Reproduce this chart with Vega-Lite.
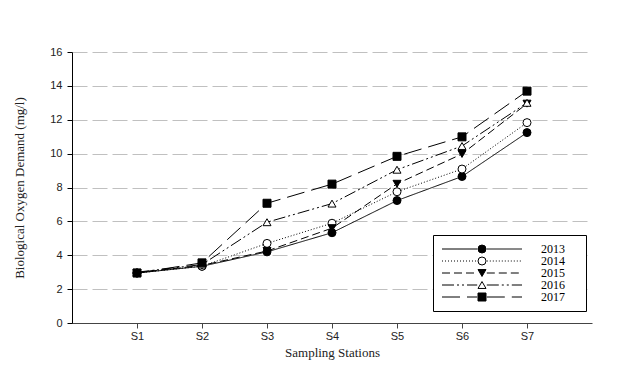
{
  "$schema": "https://vega.github.io/schema/vega-lite/v6.json",
  "width": 520,
  "height": 271,
  "autosize": "none",
  "padding": {"left": 72, "top": 52, "right": 45, "bottom": 46},
  "background": "white",
  "config": {"view": {"stroke": null}},
  "data": {
    "values": [
      {"station": "S1", "year": "2013", "bod": 2.95},
      {"station": "S2", "year": "2013", "bod": 3.35},
      {"station": "S3", "year": "2013", "bod": 4.2},
      {"station": "S4", "year": "2013", "bod": 5.33},
      {"station": "S5", "year": "2013", "bod": 7.23},
      {"station": "S6", "year": "2013", "bod": 8.65},
      {"station": "S7", "year": "2013", "bod": 11.24},
      {"station": "S1", "year": "2014", "bod": 2.95},
      {"station": "S2", "year": "2014", "bod": 3.35},
      {"station": "S3", "year": "2014", "bod": 4.7},
      {"station": "S4", "year": "2014", "bod": 5.89},
      {"station": "S5", "year": "2014", "bod": 7.75},
      {"station": "S6", "year": "2014", "bod": 9.09},
      {"station": "S7", "year": "2014", "bod": 11.83},
      {"station": "S1", "year": "2015", "bod": 2.97},
      {"station": "S2", "year": "2015", "bod": 3.4},
      {"station": "S3", "year": "2015", "bod": 4.25},
      {"station": "S4", "year": "2015", "bod": 5.6},
      {"station": "S5", "year": "2015", "bod": 8.22},
      {"station": "S6", "year": "2015", "bod": 9.98},
      {"station": "S7", "year": "2015", "bod": 12.95},
      {"station": "S1", "year": "2016", "bod": 3.0},
      {"station": "S2", "year": "2016", "bod": 3.45},
      {"station": "S3", "year": "2016", "bod": 5.95},
      {"station": "S4", "year": "2016", "bod": 7.05},
      {"station": "S5", "year": "2016", "bod": 9.05},
      {"station": "S6", "year": "2016", "bod": 10.45},
      {"station": "S7", "year": "2016", "bod": 13.0},
      {"station": "S1", "year": "2017", "bod": 2.95},
      {"station": "S2", "year": "2017", "bod": 3.55},
      {"station": "S3", "year": "2017", "bod": 7.07},
      {"station": "S4", "year": "2017", "bod": 8.2},
      {"station": "S5", "year": "2017", "bod": 9.84},
      {"station": "S6", "year": "2017", "bod": 10.99},
      {"station": "S7", "year": "2017", "bod": 13.69}
    ]
  },
  "encoding": {
    "x": {
      "field": "station", "type": "ordinal",
      "scale": {"type": "point", "padding": 1},
      "axis": {
        "title": "Sampling Stations", "titleFont": "Liberation Serif", "titleFontSize": 13, "titleFontWeight": "normal", "titleColor": "#222",
        "titlePadding": 5,
        "labelAngle": 0, "labelFont": "Liberation Sans", "labelFontSize": 11, "labelColor": "#222", "labelPadding": 2,
        "domainColor": "#444", "tickColor": "#444", "tickSize": 5, "grid": false
      }
    },
    "y": {
      "field": "bod", "type": "quantitative",
      "scale": {"domain": [0, 16], "nice": false, "zero": true},
      "axis": {
        "title": "Biological Oxygen Demand (mg/l)", "titleFont": "Liberation Serif", "titleFontSize": 13, "titleFontWeight": "normal", "titleColor": "#222",
        "titlePadding": 23,
        "values": [0, 2, 4, 6, 8, 10, 12, 14, 16],
        "labelFont": "Liberation Sans", "labelFontSize": 11, "labelColor": "#222", "labelPadding": 5,
        "domainColor": "black", "tickColor": "black", "tickSize": 5,
        "grid": true, "gridColor": "#c0c0c0", "gridDash": [15, 5], "gridWidth": 1
      }
    }
  },
  "layer": [
    {
      "mark": {"type": "line", "color": "black", "strokeWidth": 1},
      "encoding": {
        "strokeDash": {
          "field": "year", "type": "nominal",
          "scale": {"range": [[1, 0], [1, 2], [8, 4], [12, 3, 2, 3, 2, 3], [18, 7]]},
          "legend": {
            "orient": "none", "legendX": 361, "legendY": 183, "padding": 8, "title": null,
            "symbolType": "M-10,0H-1.2M1.2,0H10", "symbolSize": 64, "symbolOffset": 35,
            "symbolStrokeColor": "black", "symbolStrokeWidth": 1,
            "labelOffset": 53, "labelFont": "Liberation Serif", "labelFontSize": 12, "labelColor": "black",
            "rowPadding": 0, "zindex": 2
          }
        }
      }
    },
    {
      "mark": {"type": "point", "size": 64, "stroke": "black", "strokeWidth": 1, "opacity": 1, "filled": true},
      "encoding": {
        "shape": {
          "field": "year", "type": "nominal",
          "scale": {"domain": ["2013", "2014", "2015", "2016", "2017"], "range": ["circle", "circle", "triangle-down", "triangle-up", "square"]},
          "legend": {
            "orient": "none", "legendX": 361, "legendY": 183, "padding": 8, "title": null,
            "strokeColor": "black", "fillColor": "white",
            "symbolSize": 64, "symbolOffset": 35, "symbolStrokeColor": "black", "symbolStrokeWidth": 1,
            "labelOpacity": 0, "labelOffset": 66, "labelFont": "Liberation Serif", "labelFontSize": 12,
            "rowPadding": 0, "zindex": 1
          }
        },
        "color": {
          "field": "year", "type": "nominal",
          "scale": {"domain": ["2013", "2014", "2015", "2016", "2017"], "range": ["black", "white", "black", "white", "black"]},
          "legend": {
            "orient": "none", "legendX": 361, "legendY": 183, "padding": 8, "title": null,
            "strokeColor": "black", "fillColor": "white",
            "symbolSize": 64, "symbolOffset": 35, "symbolStrokeColor": "black", "symbolStrokeWidth": 1,
            "labelOpacity": 0, "labelOffset": 66, "labelFont": "Liberation Serif", "labelFontSize": 12,
            "rowPadding": 0, "zindex": 1
          }
        }
      }
    }
  ]
}
